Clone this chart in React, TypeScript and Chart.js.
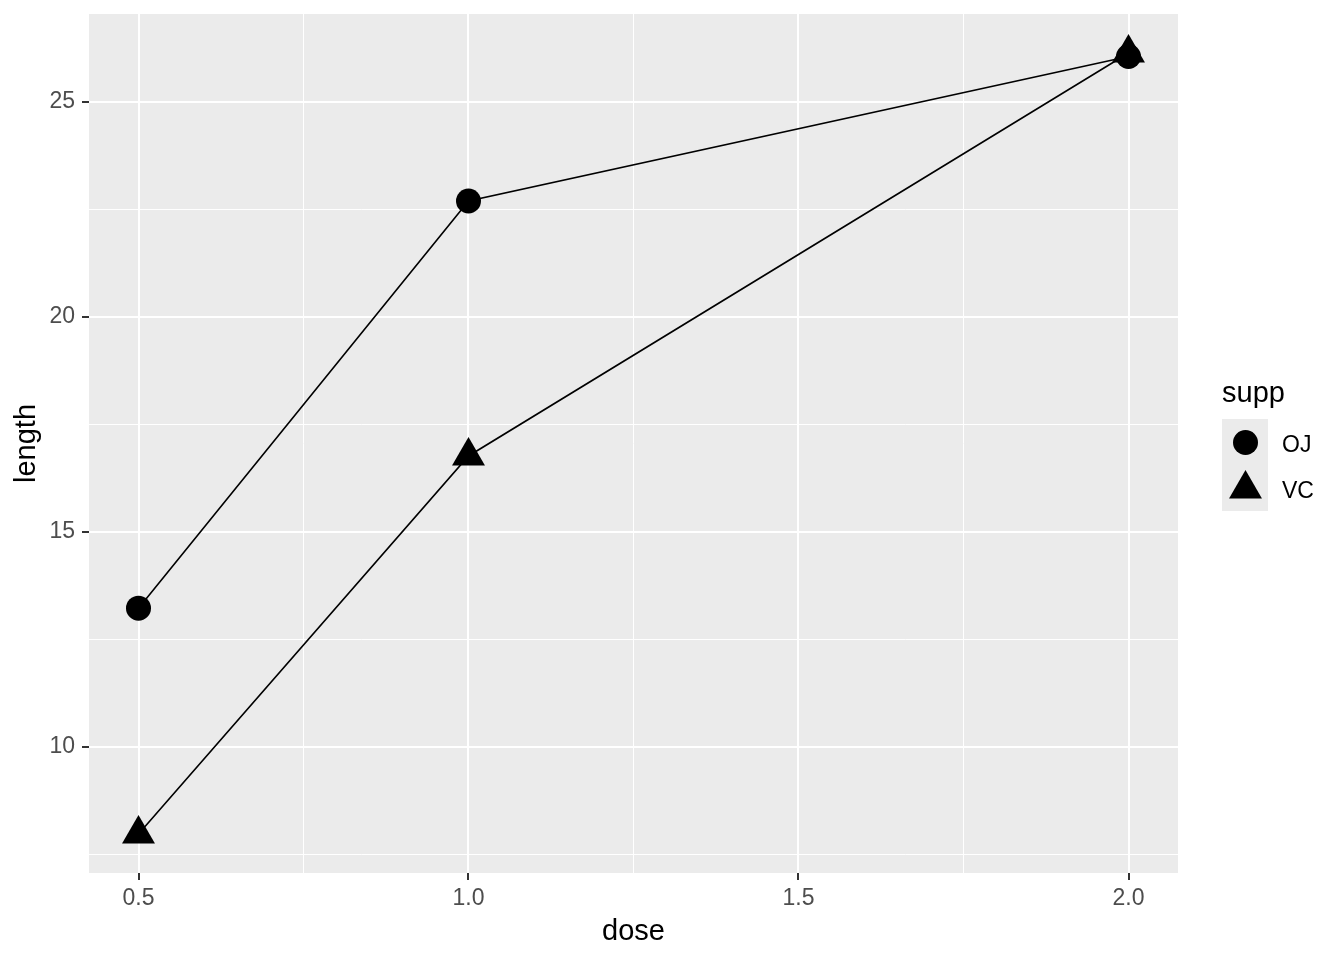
import React, { useEffect, useRef } from 'react';
import { Chart, registerables } from 'chart.js';

Chart.register(...registerables);

// ---- data ----
const doses = [0.5, 1.0, 2.0];
const ojLength = [13.23, 22.7, 26.06];
const vcLength = [7.98, 16.77, 26.14];
const seriesNames = ['OJ', 'VC'];
const legendTitle = 'supp';
const xTitle = 'dose';
const yTitle = 'length';
const xTicks = [0.5, 0.75, 1.0, 1.25, 1.5, 1.75, 2.0];
const yTicks = [7.5, 10, 12.5, 15, 17.5, 20, 22.5, 25];
const xRange = [0.425, 2.075];
const yRange = [7.072, 27.048];

const FONT = "'Liberation Sans', Arial, sans-serif";
const PANEL = '#EBEBEB';

const isMajorX = (v: number) => Math.abs(v * 2 - Math.round(v * 2)) < 1e-9;
const isMajorY = (v: number) => Math.abs(v / 5 - Math.round(v / 5)) < 1e-9;

function drawTriangle(ctx: CanvasRenderingContext2D, x: number, y: number, r: number) {
  ctx.beginPath();
  for (let i = 0; i < 3; i++) {
    const a = (i * 2 * Math.PI) / 3;
    const px = x + Math.sin(a) * r;
    const py = y - Math.cos(a) * r;
    if (i === 0) ctx.moveTo(px, py);
    else ctx.lineTo(px, py);
  }
  ctx.closePath();
  ctx.fill();
}

const ggPlugin = {
  id: 'ggPanel',
  beforeDraw(chart: any) {
    const { ctx, chartArea: a } = chart;
    ctx.save();
    ctx.fillStyle = PANEL;
    ctx.fillRect(a.left, a.top, a.right - a.left, a.bottom - a.top);
    ctx.restore();
  },
  afterDraw(chart: any) {
    const ctx: CanvasRenderingContext2D = chart.ctx;
    ctx.save();
    // legend title
    ctx.fillStyle = '#000000';
    ctx.font = `29px ${FONT}`;
    ctx.textAlign = 'left';
    ctx.textBaseline = 'alphabetic';
    ctx.fillText(legendTitle, 1222, 402);
    // keys
    ctx.fillStyle = PANEL;
    ctx.fillRect(1222, 419, 46, 92);
    ctx.fillStyle = '#000000';
    ctx.beginPath();
    ctx.arc(1245.5, 442.5, 12.5, 0, Math.PI * 2);
    ctx.fill();
    drawTriangle(ctx, 1245.5, 489, 19);
    // labels
    ctx.font = `23px ${FONT}`;
    ctx.fillText(seriesNames[0], 1282, 452);
    ctx.fillText(seriesNames[1], 1282, 498);
    ctx.restore();
  },
};

export default function App() {
  const ref = useRef<HTMLCanvasElement | null>(null);

  useEffect(() => {
    if (!ref.current) return;
    const chart = new Chart(ref.current, {
      type: 'line',
      data: {
        datasets: [
          {
            label: seriesNames[0],
            data: doses.map((d, i) => ({ x: d, y: ojLength[i] })),
            borderColor: '#000000',
            backgroundColor: '#000000',
            borderWidth: 1.6,
            pointStyle: 'circle',
            pointRadius: 12.5,
            pointBorderWidth: 0,
            pointBackgroundColor: '#000000',
            tension: 0,
          },
          {
            label: seriesNames[1],
            data: doses.map((d, i) => ({ x: d, y: vcLength[i] })),
            borderColor: '#000000',
            backgroundColor: '#000000',
            borderWidth: 1.6,
            pointStyle: 'triangle',
            pointRadius: 19,
            pointBorderWidth: 0,
            pointBackgroundColor: '#000000',
            tension: 0,
          },
        ],
      },
      options: {
        animation: false,
        responsive: false,
        devicePixelRatio: 1,
        layout: { autoPadding: false, padding: { left: 0, top: 14, right: 166, bottom: 0 } },
        plugins: {
          legend: { display: false },
          tooltip: { enabled: false },
        },
        elements: { line: { fill: false } },
        scales: {
          x: {
            type: 'linear',
            min: xRange[0],
            max: xRange[1],
            afterBuildTicks: (s: any) => {
              s.ticks = xTicks.map((v) => ({ value: v }));
            },
            afterFit: (s: any) => {
              s.height = 87;
              s.paddingLeft = 0;
              s.paddingRight = 0;
              s.paddingTop = 0;
              s.paddingBottom = 0;
            },
            border: { display: false },
            grid: {
              color: '#FFFFFF',
              lineWidth: (c: any) => (isMajorX(c.tick.value) ? 2 : 1),
              drawTicks: true,
              tickLength: 7,
              tickWidth: 2,
              tickColor: (c: any) => (isMajorX(c.tick.value) ? '#333333' : 'rgba(0,0,0,0)'),
            },
            ticks: {
              autoSkip: false,
              maxRotation: 0,
              minRotation: 0,
              padding: 5,
              color: '#4D4D4D',
              font: { family: FONT, size: 23 },
              callback: (v: any) => (isMajorX(Number(v)) ? Number(v).toFixed(1) : ''),
            },
            title: {
              display: true,
              text: xTitle,
              color: '#000000',
              font: { family: FONT, size: 29 },
              padding: { top: 0, bottom: 10.6 },
            },
          },
          y: {
            type: 'linear',
            min: yRange[0],
            max: yRange[1],
            afterBuildTicks: (s: any) => {
              s.ticks = yTicks.map((v) => ({ value: v }));
            },
            afterFit: (s: any) => {
              s.width = 89;
              s.paddingLeft = 0;
              s.paddingRight = 0;
              s.paddingTop = 0;
              s.paddingBottom = 0;
            },
            border: { display: false },
            grid: {
              color: '#FFFFFF',
              lineWidth: (c: any) => (isMajorY(c.tick.value) ? 2 : 1),
              drawTicks: true,
              tickLength: 7,
              tickWidth: 2,
              tickColor: (c: any) => (isMajorY(c.tick.value) ? '#333333' : 'rgba(0,0,0,0)'),
            },
            ticks: {
              autoSkip: false,
              padding: 7,
              color: '#4D4D4D',
              font: { family: FONT, size: 23, lineHeight: 0.05 },
              callback: (v: any) => (isMajorY(Number(v)) ? String(Number(v)) : ''),
            },
            title: {
              display: true,
              text: yTitle,
              color: '#000000',
              font: { family: FONT, size: 29 },
              padding: { top: 9.6, bottom: 0 },
            },
          },
        },
      },
      plugins: [ggPlugin],
    } as any);
    return () => chart.destroy();
  }, []);

  return (
    <div style={{ position: 'absolute', left: 0, top: 0, width: 1344, height: 960, background: '#FFFFFF' }}>
      <canvas ref={ref} width={1344} height={960} style={{ display: 'block' }} />
    </div>
  );
}
